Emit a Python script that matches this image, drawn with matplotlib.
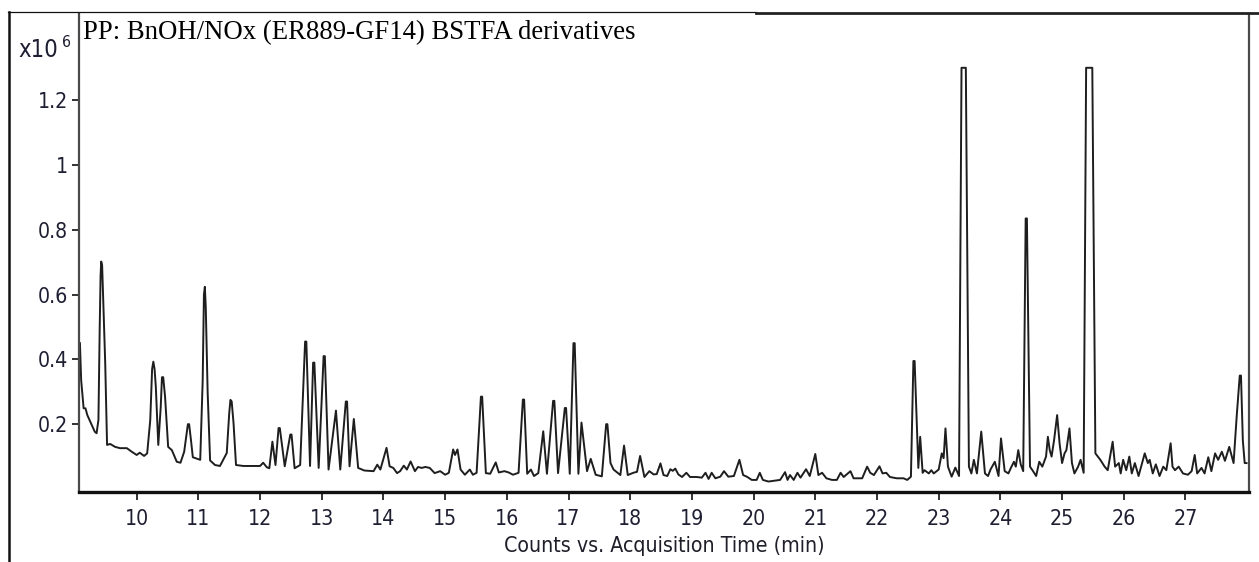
import numpy as np
import matplotlib
matplotlib.use("Agg")
import matplotlib.pyplot as plt
from matplotlib.lines import Line2D
from matplotlib import font_manager as fm
from matplotlib.font_manager import FontProperties

# ---- data (retention time in min, counts in units of 1e6) ----
time_a = [9.08, 9.10, 9.14, 9.17, 9.20, 9.27, 9.32, 9.35, 9.38, 9.40, 9.415, 9.425, 9.44, 9.455,
          9.49, 9.52, 9.57, 9.65, 9.73, 9.84, 9.92, 10.00, 10.05, 10.12, 10.17, 10.22, 10.25,
          10.27, 10.29, 10.31, 10.35, 10.39, 10.41, 10.43, 10.46, 10.51, 10.57, 10.65, 10.71,
          10.77, 10.83, 10.85, 10.88, 10.91, 10.97, 11.03, 11.07, 11.09, 11.105, 11.12, 11.15,
          11.19, 11.27, 11.35, 11.46, 11.50, 11.52, 11.54, 11.57, 11.61, 11.73, 11.89, 12.00,
          12.05, 12.11, 12.15, 12.20, 12.25, 12.30, 12.32, 12.40, 12.49, 12.51, 12.56, 12.65,
          12.73, 12.75, 12.81, 12.86, 12.88]
counts_a = [0.450, 0.336, 0.249, 0.249, 0.228, 0.198, 0.177, 0.172, 0.213, 0.490, 0.660, 0.702,
            0.690, 0.600, 0.388, 0.136, 0.139, 0.130, 0.126, 0.126, 0.115, 0.105, 0.112, 0.102,
            0.110, 0.213, 0.370, 0.393, 0.370, 0.316, 0.136, 0.254, 0.345, 0.345, 0.285, 0.130,
            0.120, 0.084, 0.081, 0.115, 0.200, 0.200, 0.151, 0.098, 0.094, 0.090, 0.336, 0.600,
            0.624, 0.560, 0.300, 0.088, 0.074, 0.071, 0.111, 0.234, 0.275, 0.270, 0.203, 0.074,
            0.071, 0.071, 0.071, 0.081, 0.067, 0.064, 0.146, 0.074, 0.188, 0.188, 0.070, 0.168,
            0.168, 0.064, 0.074, 0.455, 0.455, 0.071, 0.390, 0.390]

time_b = [12.95, 13.03, 13.05, 13.11, 13.23, 13.30, 13.39, 13.41, 13.45, 13.52, 13.59, 13.69,
          13.84, 13.90, 13.95, 14.05, 14.10, 14.16, 14.22, 14.27, 14.33, 14.38, 14.44, 14.51,
          14.56, 14.62, 14.68, 14.75, 14.83, 14.92, 15.00, 15.06, 15.13, 15.16, 15.20, 15.25,
          15.32, 15.40, 15.45, 15.51, 15.58, 15.60, 15.66, 15.73, 15.82, 15.87, 15.96, 16.03,
          16.10, 16.19, 16.26, 16.28, 16.33, 16.39, 16.44, 16.51, 16.59, 16.65, 16.75, 16.77,
          16.83, 16.94, 16.96, 17.02, 17.08, 17.10, 17.16, 17.21, 17.30, 17.36, 17.44, 17.54,
          17.61, 17.63, 17.68, 17.73, 17.84]
counts_b = [0.065, 0.410, 0.410, 0.060, 0.242, 0.060, 0.270, 0.270, 0.070, 0.216, 0.065, 0.057,
            0.055, 0.075, 0.060, 0.127, 0.070, 0.065, 0.049, 0.055, 0.072, 0.060, 0.085, 0.055,
            0.068, 0.065, 0.068, 0.065, 0.049, 0.055, 0.044, 0.050, 0.122, 0.105, 0.122, 0.060,
            0.044, 0.060, 0.044, 0.050, 0.285, 0.285, 0.049, 0.047, 0.082, 0.051, 0.055, 0.051,
            0.044, 0.050, 0.276, 0.276, 0.047, 0.060, 0.040, 0.049, 0.178, 0.047, 0.272, 0.272,
            0.049, 0.250, 0.250, 0.047, 0.450, 0.450, 0.047, 0.205, 0.055, 0.093, 0.044, 0.039,
            0.200, 0.200, 0.080, 0.060, 0.043]

time_c = [17.90, 17.96, 18.05, 18.11, 18.16, 18.23, 18.31, 18.38, 18.43, 18.49, 18.54, 18.60,
          18.65, 18.69, 18.73, 18.78, 18.84, 18.91, 18.97, 19.08, 19.16, 19.22, 19.27, 19.32,
          19.38, 19.46, 19.52, 19.59, 19.68, 19.77, 19.83, 19.89, 19.97, 20.05, 20.10, 20.15,
          20.24, 20.32, 20.43, 20.51, 20.55, 20.59, 20.65, 20.71, 20.76, 20.85, 20.91, 21.00,
          21.05, 21.11, 21.18, 21.27, 21.35, 21.41, 21.46, 21.57, 21.62, 21.76, 21.84, 21.89,
          21.95, 22.04, 22.09, 22.15, 22.21, 22.32, 22.43, 22.49, 22.55]
counts_c = [0.134, 0.043, 0.050, 0.053, 0.102, 0.037, 0.055, 0.045, 0.046, 0.079, 0.043, 0.040,
            0.061, 0.056, 0.063, 0.045, 0.037, 0.050, 0.037, 0.037, 0.035, 0.050, 0.031, 0.050,
            0.033, 0.038, 0.055, 0.038, 0.040, 0.090, 0.043, 0.038, 0.028, 0.028, 0.050, 0.028,
            0.023, 0.025, 0.028, 0.052, 0.028, 0.043, 0.028, 0.050, 0.035, 0.061, 0.040, 0.108,
            0.043, 0.050, 0.033, 0.028, 0.028, 0.050, 0.037, 0.055, 0.033, 0.033, 0.069, 0.050,
            0.043, 0.070, 0.048, 0.050, 0.037, 0.033, 0.033, 0.028, 0.038]

time_d = [22.59, 22.61, 22.67, 22.70, 22.74, 22.77, 22.84, 22.88, 22.92, 23.00, 23.05, 23.08,
          23.11, 23.15, 23.21, 23.27, 23.33, 23.37, 23.44, 23.49, 23.53, 23.57, 23.62, 23.69,
          23.75, 23.80, 23.84, 23.91, 23.97, 24.01, 24.07, 24.13, 24.18, 24.22, 24.25, 24.29,
          24.33, 24.37, 24.41, 24.43, 24.48, 24.53, 24.58, 24.63, 24.68, 24.74, 24.77, 24.80,
          24.83, 24.87, 24.92, 24.96, 25.00, 25.04, 25.07, 25.12, 25.16, 25.20, 25.26, 25.30,
          25.35, 25.39, 25.49, 25.54, 25.62, 25.69, 25.74, 25.82, 25.86, 25.92, 25.95, 25.99,
          26.04, 26.09, 26.13, 26.18, 26.24, 26.34, 26.39, 26.42, 26.47, 26.52, 26.58, 26.64,
          26.69, 26.76, 26.79, 26.83, 26.89, 26.96, 27.04, 27.10, 27.15, 27.19, 27.26, 27.31,
          27.37, 27.42, 27.48, 27.53, 27.59, 27.64, 27.71, 27.78, 27.83, 27.88, 27.90, 27.93,
          27.96, 27.99]
counts_d = [0.395, 0.395, 0.065, 0.161, 0.050, 0.058, 0.048, 0.058, 0.048, 0.060, 0.110, 0.095,
            0.187, 0.069, 0.038, 0.066, 0.040, 1.300, 1.300, 0.069, 0.048, 0.090, 0.048, 0.177,
            0.048, 0.040, 0.060, 0.084, 0.040, 0.156, 0.055, 0.048, 0.069, 0.084, 0.069, 0.120,
            0.076, 0.055, 0.835, 0.835, 0.069, 0.055, 0.040, 0.084, 0.069, 0.100, 0.161, 0.120,
            0.100, 0.150, 0.228, 0.140, 0.080, 0.110, 0.120, 0.187, 0.080, 0.048, 0.069, 0.090,
            0.050, 1.300, 1.300, 0.110, 0.090, 0.069, 0.058, 0.146, 0.069, 0.080, 0.048, 0.090,
            0.058, 0.100, 0.048, 0.080, 0.040, 0.110, 0.080, 0.090, 0.048, 0.076, 0.040, 0.069,
            0.058, 0.141, 0.069, 0.058, 0.069, 0.048, 0.044, 0.055, 0.105, 0.048, 0.065, 0.048,
            0.098, 0.055, 0.110, 0.090, 0.115, 0.087, 0.130, 0.080, 0.223, 0.350, 0.350, 0.150,
            0.080, 0.080]

x_ticks = [10, 11, 12, 13, 14, 15, 16, 17, 18, 19, 20, 21, 22, 23, 24, 25, 26, 27]
y_ticks = [0.2, 0.4, 0.6, 0.8, 1.0, 1.2]
y_tick_labels = ["0.2", "0.4", "0.6", "0.8", "1", "1.2"]

title_text = "PP: BnOH/NOx (ER889-GF14) BSTFA derivatives"
x_label = "Counts vs. Acquisition Time (min)"

# ---- pick a narrow sans font if one is installed ----
def pick_font():
    lst = fm.fontManager.ttflist
    for f in lst:
        if f.name == "Liberation Sans Narrow" and f.style == "normal" and f.weight in (400, "normal"):
            return FontProperties(fname=f.fname), 17
    for f in lst:
        if f.name == "DejaVu Sans" and f.stretch == "condensed" and f.style == "normal" \
                and f.weight in (400, "normal"):
            return FontProperties(fname=f.fname), 15.3
    return FontProperties(family="Liberation Sans"), 15

base_fp, base_size = pick_font()

def fp(size):
    p = base_fp.copy()
    p.set_size(size)
    return p

# ---- figure ----
W, H = 1259, 562
fig = plt.figure(figsize=(W / 100, H / 100), dpi=100)
fig.patch.set_facecolor("white")

ax = fig.add_axes([79 / W, 1 - 492 / H, (1249 - 79) / W, (492 - 14) / H])

t = np.concatenate([time_a, time_b, time_c, time_d])
c = np.concatenate([counts_a, counts_b, counts_c, counts_d])
ax.plot(t, c, color="#1e1e1e", lw=1.4, solid_joinstyle="round")

ax.set_xlim(9.065, 28.03)
ax.set_ylim(-0.0093, 1.466)

tick_color = "#1f1f33"

ax.set_xticks(x_ticks)
ax.set_xticklabels([str(v) for v in x_ticks], fontproperties=fp(base_size), color=tick_color)
ax.set_yticks(y_ticks)
ax.set_yticklabels(y_tick_labels, fontproperties=fp(base_size), color=tick_color)
ax.tick_params(axis="x", direction="out", length=6, width=1.3, pad=6, color="#222222")
ax.tick_params(axis="y", direction="out", length=5, width=1.3, pad=3, color="#222222")

ax.set_xlabel(x_label, fontproperties=fp(base_size), color="#1f1f2a", labelpad=5)

ax.spines["top"].set_visible(False)
ax.spines["left"].set_linewidth(1.6)
ax.spines["left"].set_color("#4a4a4a")
ax.spines["right"].set_linewidth(1.6)
ax.spines["right"].set_color("#4a4a4a")
ax.spines["bottom"].set_linewidth(2.4)
ax.spines["bottom"].set_color("#111111")

def fx(px):
    return px / W

def fy(py):
    return 1 - py / H

fig.add_artist(Line2D([fx(9), fx(9)], [fy(12), fy(562)], color="#111111", lw=1.8))
fig.add_artist(Line2D([fx(8), fx(756)], [fy(12), fy(12)], color="#111111", lw=0.9))
fig.add_artist(Line2D([fx(756), fx(1259)], [fy(13), fy(13)], color="#222222", lw=2.0))

fig.text(fx(83), fy(39), title_text, family=["Liberation Serif", "DejaVu Serif"],
         fontsize=19.3, color="black", ha="left", va="baseline")
fig.text(fx(18), fy(57), "x10", fontproperties=fp(base_size * 1.12), color=tick_color,
         ha="left", va="baseline")
fig.text(fx(62), fy(47), "6", fontproperties=fp(base_size * 0.75), color=tick_color,
         ha="left", va="baseline")

fig.savefig("out.png", dpi=100, facecolor="white")
